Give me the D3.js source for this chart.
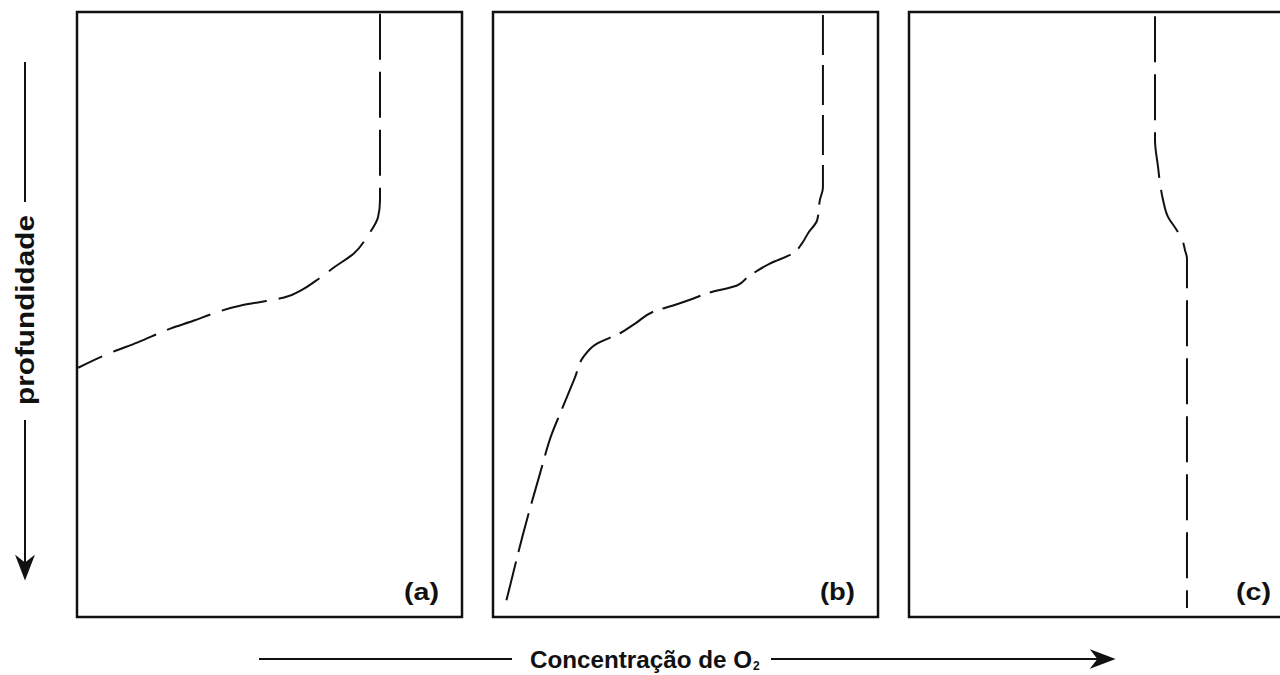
<!DOCTYPE html>
<html><head><meta charset="utf-8">
<script src="https://cdn.jsdelivr.net/npm/d3@7"></script>
<style>html,body{margin:0;padding:0;background:#fff;overflow:hidden}</style>
</head><body>
<svg id="chart" width="1280" height="675"></svg>
<script>
// Panel labels
const panelLabels = ["(a)", "(b)", "(c)"];
// Concentration (0-100 of panel width) and depth (0-100 of panel height)
const concA = [78.7,78.7,78.2,75.6,71.9,66.8,62.1,58.2,53.8,47.0,42.6,35.6,30.4,24.4,15.8,8.8,0.3];
const depthA = [0.3,31.1,33.9,36.9,39.9,42.2,44.4,46.0,47.2,48.0,48.5,49.8,51.0,52.3,54.6,56.3,58.8];
const concB = [85.7,85.7,84.9,84.2,81.8,80.3,77.9,71.9,66.0,63.4,55.6,51.9,46.8,42.6,36.9,33.0,27.0,23.4,21.3,17.4,15.3,12.2,7.8,3.9,2.9];
const depthB = [0.5,29.0,31.1,34.4,36.6,38.2,39.9,41.6,43.9,45.2,46.5,47.4,48.5,49.3,51.5,53.1,54.8,57.1,60.4,66.4,69.7,76.3,86.3,96.2,98.7];
const concC = [63.9,63.9,63.9,64.7,65.2,66.0,67.3,69.6,71.2,71.7,72.2,72.2];
const depthC = [0.7,19.0,21.2,25.7,28.3,31.1,33.9,36.1,38.1,39.4,40.7,98.5];
const xTitle = "Concentração de O";
const xTitleSub = "2";
const yTitle = "profundidade";

const svg = d3.select("#chart");
const panelLefts = [77, 493, 909];
const panelW = 385, panelTop = 12, panelBottom = 617;
const series = [[concA, depthA], [concB, depthB], [concC, depthC]];
const font = "'Liberation Sans', Arial, sans-serif";

svg.append("defs").append("marker").attr("id","ah").attr("viewBox","0 0 10 10")
  .attr("refX",9).attr("refY",5).attr("markerWidth",26).attr("markerHeight",20)
  .attr("markerUnits","userSpaceOnUse").attr("orient","auto")
  .attr("preserveAspectRatio","none")
  .append("path").attr("d","M0,0 L10,5 L0,10 L3,5 Z").attr("fill","#111");

series.forEach((s, i) => {
  const x = d3.scaleLinear().domain([0,100]).range([panelLefts[i], panelLefts[i] + panelW]);
  const y = d3.scaleLinear().domain([0,100]).range([panelTop, panelBottom]);
  const g = svg.append("g");
  g.append("rect").attr("x", x(0)).attr("y", y(0))
    .attr("width", x(100)-x(0)).attr("height", y(100)-y(0))
    .attr("fill","none").attr("stroke","#111").attr("stroke-width",2.5);
  const pts = s[0].map((c, k) => [c, s[1][k]]);
  const line = d3.line().x(d => x(d[0])).y(d => y(d[1])).curve(d3.curveMonotoneY);
  g.append("path").attr("d", line(pts)).attr("fill","none")
    .attr("stroke","#111").attr("stroke-width",2)
    .attr("stroke-dasharray", i === 1 ? "40 10" : "46 12");
  g.append("text").attr("x", x(100) - 23).attr("y", y(100) - 17)
    .attr("text-anchor","end").attr("font-family",font).attr("font-weight","bold")
    .attr("font-size",24).attr("fill","#111")
    .attr("textLength",35).attr("lengthAdjust","spacingAndGlyphs").text(panelLabels[i]);
});

// X axis title with arrow
const ax = svg.append("g");
ax.append("line").attr("x1",259).attr("x2",512).attr("y1",659).attr("y2",659)
  .attr("stroke","#111").attr("stroke-width",2);
ax.append("text").attr("x",530).attr("y",668).attr("font-family",font)
  .attr("font-weight","bold").attr("font-size",24).attr("fill","#111")
  .attr("textLength",222).attr("lengthAdjust","spacingAndGlyphs").text(xTitle);
ax.append("text").attr("x",753).attr("y",670).attr("font-family",font)
  .attr("font-weight","bold").attr("font-size",12).attr("fill","#111").text(xTitleSub);
ax.append("line").attr("x1",771).attr("x2",1113).attr("y1",659).attr("y2",659)
  .attr("stroke","#111").attr("stroke-width",2).attr("marker-end","url(#ah)");

// Y axis title with arrow
const ay = svg.append("g");
ay.append("line").attr("x1",25).attr("x2",25).attr("y1",62).attr("y2",202)
  .attr("stroke","#111").attr("stroke-width",2);
ay.append("text").attr("transform","translate(34,310) rotate(-90)")
  .attr("text-anchor","middle").attr("font-family",font).attr("font-weight","bold")
  .attr("font-size",25).attr("fill","#111")
  .attr("textLength",190).attr("lengthAdjust","spacingAndGlyphs").text(yTitle);
ay.append("line").attr("x1",25).attr("x2",25).attr("y1",420).attr("y2",578)
  .attr("stroke","#111").attr("stroke-width",2).attr("marker-end","url(#ah)");
</script>
</body></html>
